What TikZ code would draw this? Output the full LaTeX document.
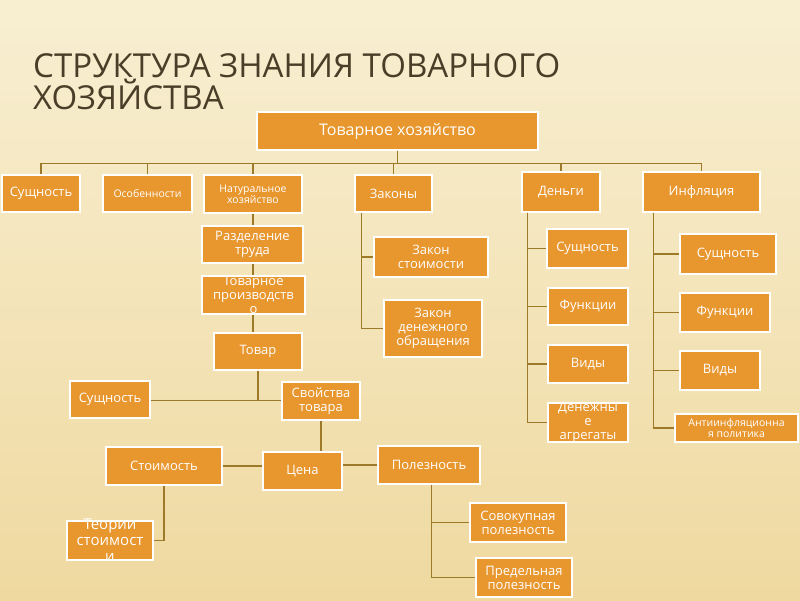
\documentclass[tikz,border=0pt]{standalone}
\usepackage{fontspec}
\setmainfont{Open Sans}
\usetikzlibrary{calc}
\definecolor{bgA}{HTML}{F8EFD2}
\definecolor{bgB}{HTML}{EFD9A0}
\definecolor{boxc}{HTML}{E8962E}
\definecolor{linec}{HTML}{9C7A2A}
\definecolor{titlec}{HTML}{4A3E28}
\tikzset{
  box/.style={draw=white,line width=1.2pt,fill=boxc,inner sep=0pt},
  txt/.style={text=white,align=center,inner sep=0pt,font=\fontsize{13}{14}\selectfont},
  small/.style={font=\fontsize{10.5}{11}\selectfont},
  conn/.style={draw=linec,line width=1.3pt},
  ttl/.style={anchor=base west,text=titlec,font=\fontsize{33}{33}\selectfont,inner sep=0pt}
}
\newcommand\bx[7][]{%
  \pgfmathsetmacro\bw{#5-#3}\pgfmathsetmacro\bh{#6-#4}%
  \node[box,minimum width=\bw pt,minimum height=\bh pt] (#2) at ({(#3+#5)/2},{(#4+#6)/2}) {};%
  \node[txt,#1] at (#2) {#7};}
\begin{document}
\begin{tikzpicture}[x=1pt,y=-1pt]
\shade[top color=bgA,bottom color=bgB] (0,0) rectangle (800,600);
\useasboundingbox (0,0) rectangle (800,600);
\node[ttl] at (33,77) {СТРУКТУРА ЗНАНИЯ ТОВАРНОГО};
\node[ttl] at (33,109) {ХОЗЯЙСТВА};
% boxes
\bx[font=\fontsize{16}{17}\selectfont]{top}{257}{112}{538}{150}{Товарное хозяйство}
\bx{sus}{2}{175}{80}{212}{Сущность}
\bx[small]{oso}{103}{175}{192}{212}{Особенности}
\bx[small]{nat}{204}{175}{302}{213}{Натуральное\\хозяйство}
\bx{zak}{355}{175}{432}{212}{Законы}
\bx{den}{522}{172}{600}{212}{Деньги}
\bx{inf}{643}{172}{760}{212}{Инфляция}
\bx{raz}{202}{226}{303}{263}{Разделение\\труда}
\bx{tpr}{202}{276}{305}{314}{Товарное\\производств\\о}
\bx{tov}{214}{333}{302}{370}{Товар}
\bx{zs}{374}{237}{488}{277}{Закон\\стоимости}
\bx{zdo}{384}{300}{482}{357}{Закон\\денежного\\обращения}
\bx{ds}{547}{229}{628}{268}{Сущность}
\bx{df}{548}{288}{628}{325}{Функции}
\bx{dv}{548}{345}{628}{383}{Виды}
\bx{da}{548}{403}{628}{442}{Денежны\\е\\агрегаты}
\bx{is}{680}{234}{776}{274}{Сущность}
\bx{if}{680}{293}{770}{332}{Функции}
\bx{iv}{680}{351}{760}{390}{Виды}
\bx[small]{ia}{675}{414}{798}{442}{Антиинфляционна\\я политика}
\bx{sus2}{70}{381}{150}{418}{Сущность}
\bx{svo}{282}{382}{360}{420}{Свойства\\товара}
\bx{cen}{263}{452}{342}{490}{Цена}
\bx{stm}{106}{447}{222}{485}{Стоимость}
\bx{pol}{378}{446}{480}{484}{Полезность}
\bx[font=\fontsize{15}{16}\selectfont]{teo}{67}{521}{153}{560}{Теории\\стоимост\\и}
\bx{sov}{470}{503}{566}{542}{Совокупная\\полезность}
\bx{pre}{476}{558}{572}{597}{Предельная\\полезность}
% connectors
\coordinate (bus) at ($(top.south)+(0,13)$);
\foreach \c in {sus,oso,nat,zak,den,inf}{\draw[conn] (top.south) -- (bus) -| (\c.north);}
\draw[conn] (nat.south) -- (nat.south |- raz.north);
\draw[conn] (nat.south |- raz.south) -- (nat.south |- tpr.north);
\draw[conn] (nat.south |- tpr.south) -- (nat.south |- tov.north);
\coordinate (hb) at ($(sus2.east)+(0,1)$);
\draw[conn] (hb) -- (hb -| svo.west);
\draw[conn] (tov.south) -- (tov.south |- hb);
\draw[conn] (svo.south) -- (svo.south |- cen.north);
\draw[conn] (stm.east) -- (stm.east -| cen.west);
\draw[conn] (pol.west) -- (pol.west -| cen.east);
\draw[conn] (stm.south) |- (teo.east);
\foreach \c in {sov,pre}{\draw[conn] ($(pol.south west)+(54,0)$) |- (\c.west);}
\foreach \c in {zs,zdo}{\draw[conn] ($(zak.south west)+(7,0)$) |- (\c.west);}
\foreach \c in {ds,df,dv,da}{\draw[conn] ($(den.south west)+(6,0)$) |- (\c.west);}
\foreach \c in {is,if,iv,ia}{\draw[conn] ($(inf.south west)+(11,0)$) |- (\c.west);}
\end{tikzpicture}
\end{document}
